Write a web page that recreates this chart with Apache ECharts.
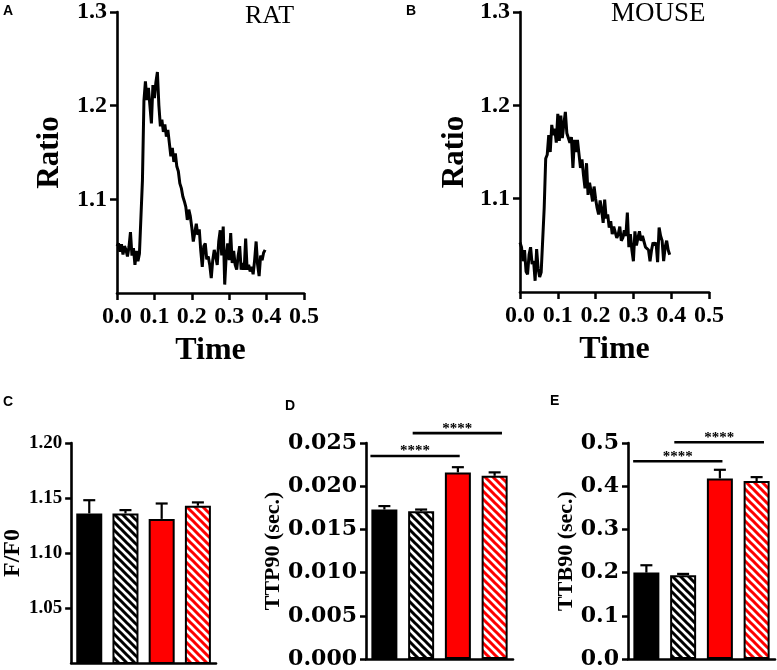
<!DOCTYPE html>
<html>
<head>
<meta charset="utf-8">
<script src="https://cdn.jsdelivr.net/npm/echarts@6/dist/echarts.min.js"></script>
<style>
html,body{margin:0;padding:0;background:#fff;}
#chart{width:777px;height:670px;}
</style>
</head>
<body>
<div id="chart"></div>
<script>
// ---------- DATA ----------
var timeSec = [0.000,0.004,0.008,0.012,0.016,0.020,0.024,0.028,0.032,0.036,
  0.040,0.044,0.048,0.052,0.056,0.060,0.064,0.068,0.072,0.076,
  0.080,0.084,0.088,0.092,0.096,0.100,0.104,0.108,0.112,0.116,
  0.120,0.124,0.128,0.132,0.136,0.140,0.144,0.148,0.152,0.156,
  0.160,0.164,0.168,0.172,0.176,0.180,0.184,0.188,0.192,0.196,
  0.200,0.204,0.208,0.212,0.216,0.220,0.224,0.228,0.232,0.236,
  0.240,0.244,0.248,0.252,0.256,0.260,0.264,0.268,0.272,0.276,
  0.280,0.284,0.288,0.292,0.296,0.300,0.304,0.308,0.312,0.316,
  0.320,0.324,0.328,0.332,0.336,0.340,0.344,0.348,0.352,0.356,
  0.360,0.364,0.368,0.372,0.376,0.380,0.384,0.388,0.392,0.396];

var ratRatio = [1.050,1.053,1.044,1.052,1.041,1.050,1.046,1.039,1.049,1.065,
  1.040,1.048,1.030,1.045,1.034,1.042,1.040,1.120,1.205,1.226,
  1.206,1.219,1.200,1.181,1.222,1.208,1.225,1.236,1.200,1.178,
  1.185,1.172,1.180,1.167,1.174,1.160,1.146,1.155,1.140,1.149,
  1.135,1.130,1.117,1.112,1.103,1.098,1.092,1.078,1.089,1.082,
  1.070,1.055,1.057,1.074,1.062,1.068,1.045,1.028,1.050,1.053,
  1.036,1.039,1.030,1.016,1.035,1.046,1.039,1.030,1.055,1.067,
  1.040,1.071,1.009,1.040,1.053,1.035,1.064,1.032,1.045,1.030,
  1.025,1.040,1.050,1.025,1.032,1.025,1.058,1.025,1.030,1.023,
  1.028,1.020,1.035,1.055,1.030,1.018,1.040,1.035,1.043,1.046];

var mouseRatio = [1.053,1.048,1.033,1.045,1.022,1.019,1.040,1.048,1.030,1.033,
  1.012,1.046,1.025,1.016,1.021,1.020,1.090,1.143,1.147,1.168,
  1.150,1.179,1.168,1.175,1.160,1.191,1.162,1.189,1.165,1.180,
  1.193,1.170,1.168,1.160,1.166,1.133,1.163,1.150,1.163,1.148,
  1.133,1.142,1.125,1.111,1.138,1.104,1.117,1.108,1.097,1.113,
  1.100,1.090,1.083,1.098,1.088,1.074,1.099,1.079,1.083,1.069,
  1.076,1.062,1.070,1.064,1.058,1.062,1.070,1.055,1.058,1.066,
  1.060,1.085,1.048,1.062,1.045,1.033,1.065,1.050,1.058,1.065,
  1.055,1.060,1.062,1.048,1.050,1.045,1.033,1.045,1.053,1.050,
  1.053,1.032,1.069,1.060,1.055,1.033,1.048,1.055,1.045,1.040];

var groups = ['Rat', 'Rat (hatched)', 'Mouse', 'Mouse (hatched)'];

var ff0Mean = [1.136, 1.136, 1.131, 1.143];
var ff0Sem  = [0.012, 0.003, 0.014, 0.003];

var ttp90Mean = [0.0173, 0.0171, 0.0216, 0.0212];
var ttp90Sem  = [0.0004, 0.0002, 0.0006, 0.0004];

var ttb90Mean = [0.200, 0.194, 0.418, 0.412];
var ttb90Sem  = [0.017, 0.003, 0.020, 0.009];

var timeTicks = [0.0, 0.1, 0.2, 0.3, 0.4, 0.5];
var ratioTicks = [1.1, 1.2, 1.3];
var ff0Ticks = [1.05, 1.10, 1.15, 1.20];

// significance annotations: [from category, to category, level]
var sigD = [{from: -0.38, to: 2.05, y: 0.0235, text: '****'},
            {from: 0.77, to: 3.2, y: 0.02614, text: '****'}];
var sigE = [{from: -0.36, to: 2.07, y: 0.4577, text: '****'},
            {from: 0.76, to: 3.2, y: 0.5016, text: '****'}];

// ---------- STYLE ----------
var SERIF = "'Liberation Serif','Times New Roman',serif";
var SERIF_WIDE = "'DejaVu Serif','Liberation Serif',serif";
var SANS = "'Liberation Sans',Arial,sans-serif";

function hatch(color) {
  var p = 8;
  var c = document.createElement('canvas');
  c.width = p; c.height = p;
  var g = c.getContext('2d');
  g.fillStyle = '#fff';
  g.fillRect(0, 0, p, p);
  g.strokeStyle = color;
  g.lineWidth = 3;
  g.beginPath();
  [-p, 0, p].forEach(function (k) { g.moveTo(k - p, -p); g.lineTo(k + 2 * p, 2 * p); });
  g.stroke();
  return {image: c, repeat: 'repeat'};
}
var fills = ['#000000', hatch('#000000'), '#ff0000', hatch('#ff0000')];

function zip(a, b) { return a.map(function (v, i) { return [v, b[i]]; }); }

var axLine = {lineStyle: {color: '#000', width: 2.6}};

function topX(gi) {
  return {
    gridIndex: gi, type: 'value', min: 0, max: 0.5, interval: 0.1,
    axisLine: axLine, axisTick: {length: 7, lineStyle: {color: '#000', width: 2.5}, customValues: timeTicks},
    splitLine: {show: false},
    axisLabel: {margin: 12, color: '#000', fontFamily: SERIF, fontWeight: 'bold', fontSize: 24,
      customValues: timeTicks, formatter: function (v) { return v.toFixed(1); }},
    name: 'Time', nameLocation: 'middle', nameGap: 42,
    nameTextStyle: {color: '#000', fontFamily: SERIF, fontWeight: 'bold', fontSize: 32}
  };
}
function topY(gi, gap) {
  return {
    gridIndex: gi, type: 'value', min: 1.0, max: 1.3, interval: 0.1,
    axisLine: {show: true, lineStyle: {color: '#000', width: 2.6}},
    axisTick: {show: true, length: 7, lineStyle: {color: '#000', width: 2.5}, customValues: ratioTicks},
    splitLine: {show: false},
    axisLabel: {margin: 10, color: '#000', fontFamily: SERIF, fontWeight: 'bold', fontSize: 24,
      customValues: ratioTicks, formatter: function (v) { return v.toFixed(1); }},
    name: 'Ratio', nameLocation: 'middle', nameGap: gap,
    nameTextStyle: {color: '#000', fontFamily: SERIF, fontWeight: 'bold', fontSize: 31}
  };
}
function barX(gi) {
  return {
    gridIndex: gi, type: 'category', data: groups,
    axisLine: axLine, axisTick: {show: false}, axisLabel: {show: false}, splitLine: {show: false}
  };
}
function barY(gi, min, max, interval, digits, custom, name, gap, font, fsize, nsize) {
  var lab = {margin: 9, color: '#000', fontFamily: font, fontWeight: 'bold', fontSize: fsize,
    formatter: function (v) { return v.toFixed(digits); }};
  var tick = {show: true, length: 6, lineStyle: {color: '#000', width: 2.5}};
  if (custom) { lab.customValues = custom; tick.customValues = custom; }
  return {
    gridIndex: gi, type: 'value', min: min, max: max, interval: interval,
    axisLine: {show: true, lineStyle: {color: '#000', width: 2.6}},
    axisTick: tick, splitLine: {show: false}, axisLabel: lab,
    name: name, nameLocation: 'middle', nameGap: gap,
    nameTextStyle: {color: '#000', fontFamily: SERIF, fontWeight: 'bold', fontSize: nsize}
  };
}

function barSeries(gi, means) {
  return {
    type: 'bar', xAxisIndex: gi, yAxisIndex: gi, barWidth: 26, z: 2,
    data: means.map(function (v, i) {
      return {value: v, itemStyle: {color: fills[i], borderColor: '#000', borderWidth: 2}};
    })
  };
}
function errSeries(gi, means, sems) {
  return {
    type: 'custom', xAxisIndex: gi, yAxisIndex: gi, z: 3, clip: false,
    data: means.map(function (v, i) { return [i, v]; }),
    renderItem: function (params, api) {
      var i = params.dataIndex;
      var p0 = api.coord([i, means[i]]);
      var p1 = api.coord([i, means[i] + sems[i]]);
      var st = {stroke: '#000', lineWidth: 2.2};
      return {type: 'group', children: [
        {type: 'line', shape: {x1: p0[0], y1: p0[1], x2: p1[0], y2: p1[1]}, style: st},
        {type: 'line', shape: {x1: p1[0] - 6, y1: p1[1], x2: p1[0] + 6, y2: p1[1]}, style: st}
      ]};
    }
  };
}
function sigSeries(gi, sig) {
  return {
    type: 'custom', xAxisIndex: gi, yAxisIndex: gi, z: 4, clip: false,
    data: sig.map(function (s) { return [0, s.y]; }),
    renderItem: function (params, api) {
      var s = sig[params.dataIndex];
      var c0 = api.coord([0, s.y]);
      var c1 = api.coord([1, s.y]);
      var step = c1[0] - c0[0];
      var xa = c0[0] + s.from * step, xb = c0[0] + s.to * step, y = c0[1];
      return {type: 'group', children: [
        {type: 'line', shape: {x1: xa, y1: y, x2: xb, y2: y}, style: {stroke: '#000', lineWidth: 2.6}},
        {type: 'text', x: (xa + xb) / 2, y: y + 3,
          style: {text: s.text, fill: '#000', font: 'bold 15px ' + SERIF, textAlign: 'center', textVerticalAlign: 'bottom'}}
      ]};
    }
  };
}

function letter(t, x, y) {
  return {type: 'text', left: x, top: y, style: {text: t, fill: '#000', font: 'bold 14px ' + SANS}};
}

var chart = echarts.init(document.getElementById('chart'), null, {renderer: 'canvas'});
chart.setOption({
  animation: false,
  backgroundColor: '#fff',
  grid: [
    {left: 117, top: 12, width: 187, height: 281},
    {left: 520, top: 9, width: 189, height: 283},
    {left: 68, top: 443, width: 148, height: 220},
    {left: 366, top: 443, width: 147, height: 220},
    {left: 628, top: 443, width: 147, height: 220}
  ],
  xAxis: [topX(0), topX(1), barX(2), barX(3), barX(4)],
  yAxis: [
    topY(0, 52), topY(1, 50),
    barY(2, 1.0, 1.2, 0.05, 2, ff0Ticks, 'F/F0', 37, SERIF, 19, 24),
    barY(3, 0, 0.025, 0.005, 3, null, 'TTP90 (sec.)', 62, SERIF_WIDE, 22, 22),
    barY(4, 0, 0.5, 0.1, 1, null, 'TTB90 (sec.)', 40, SERIF_WIDE, 22, 22)
  ],
  series: [
    {type: 'line', xAxisIndex: 0, yAxisIndex: 0, showSymbol: false, data: zip(timeSec, ratRatio),
      lineStyle: {color: '#000', width: 3}, itemStyle: {color: '#000'}},
    {type: 'line', xAxisIndex: 1, yAxisIndex: 1, showSymbol: false, data: zip(timeSec, mouseRatio),
      lineStyle: {color: '#000', width: 3}, itemStyle: {color: '#000'}},
    barSeries(2, ff0Mean), errSeries(2, ff0Mean, ff0Sem),
    barSeries(3, ttp90Mean), errSeries(3, ttp90Mean, ttp90Sem), sigSeries(3, sigD),
    barSeries(4, ttb90Mean), errSeries(4, ttb90Mean, ttb90Sem), sigSeries(4, sigE)
  ],
  graphic: [
    letter('A', 3, 4), letter('B', 406, 4), letter('C', 3, 395), letter('D', 285, 399), letter('E', 550, 394),
    {type: 'text', left: 245, top: 3, style: {text: 'RAT', fill: '#000', font: '26px ' + SERIF}},
    {type: 'text', left: 611, top: 0, style: {text: 'MOUSE', fill: '#000', font: '27px ' + SERIF}}
  ]
});
</script>
</body>
</html>
